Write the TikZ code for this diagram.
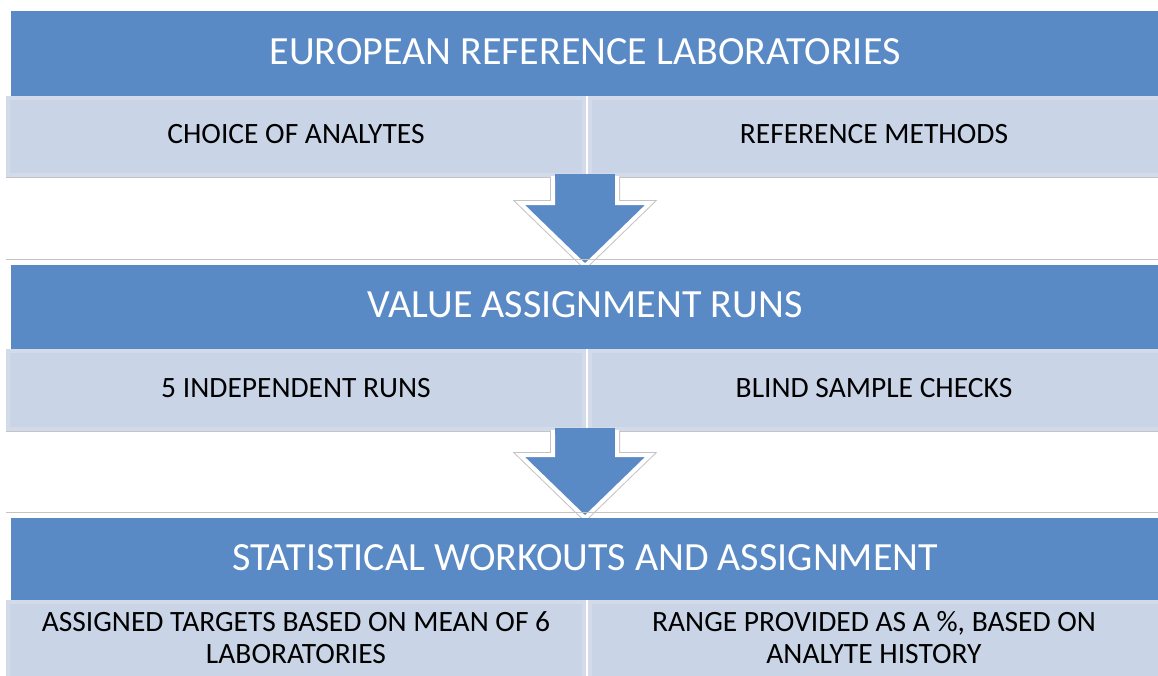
\documentclass[tikz,border=0pt]{standalone}
\usepackage{fontspec}
\setmainfont{Carlito}
\definecolor{hdr}{HTML}{5A8AC5}
\definecolor{subfill}{HTML}{C9D5E7}
\definecolor{subedge}{HTML}{D3DBEA}
\definecolor{edgegray}{HTML}{C4C4C4}
\begin{document}
\begin{tikzpicture}[x=1pt,y=-1pt,
  hdrbox/.style={fill=hdr,draw=none},
  subbox/.style={fill=subfill,draw=subedge,line width=4pt},
  hdrtext/.style={text=white,font=\fontsize{40}{46}\selectfont,anchor=center},
  subtext/.style={text=black,font=\fontsize{29.5}{32}\selectfont,anchor=center,align=center},
  downarrow/.style={fill=hdr,draw=white,line width=4pt,line join=miter},
  arrowshadow/.style={draw=edgegray,line width=6pt,line join=miter},
  grayline/.style={draw=edgegray,line width=1pt}]
\useasboundingbox (0,0) rectangle (1158,675);
\fill[white] (0,0) rectangle (1158,675);
% ---- row 1
\draw[grayline] (6,177.5) -- (1158,177.5);
\draw[subbox] (8,98) rectangle (584,175);
\draw[subbox] (590,98) rectangle (1160,175);
\node[subtext] (s1a) at (296,134) {CHOICE OF ANALYTES};
\node[subtext] (s1b) at (874,134) {REFERENCE METHODS};
% arrow 1
\draw[arrowshadow] (553,177) -- (553,203) -- (520,203) -- (585,266) -- (650,203) -- (617,203) -- (617,177);
\draw[downarrow] (553,176) -- (553,203) -- (520,203) -- (585,266) -- (650,203) -- (617,203) -- (617,176);
\fill[hdr] (555,174) rectangle (615,180);
% header 1
\fill[hdrbox] (11,11) rectangle (1158,96);
\node[hdrtext] (h1) at (585,52) {EUROPEAN REFERENCE LABORATORIES};
% ---- row 2
\draw[grayline] (6,259.5) -- (1158,259.5);
\draw[grayline] (6,431.5) -- (1158,431.5);
\draw[subbox] (8,351) rectangle (584,429);
\draw[subbox] (590,351) rectangle (1160,429);
\node[subtext] (s2a) at (296,388) {5 INDEPENDENT RUNS};
\node[subtext] (s2b) at (874,388) {BLIND SAMPLE CHECKS};
% arrow 2
\draw[arrowshadow] (553,431) -- (553,455) -- (520,455) -- (585,518) -- (650,455) -- (617,455) -- (617,431);
\draw[downarrow] (553,430) -- (553,455) -- (520,455) -- (585,518) -- (650,455) -- (617,455) -- (617,430);
\fill[hdr] (555,428) rectangle (615,434);
\fill[hdrbox] (11,265) rectangle (1158,349);
\node[hdrtext] (h2) at (585,305) {VALUE ASSIGNMENT RUNS};
% ---- row 3
\draw[grayline] (6,512.5) -- (1158,512.5);
\draw[subbox] (8,602) rectangle (584,680);
\draw[subbox] (590,602) rectangle (1160,680);
\node[subtext] (s3a) at (296,638) {ASSIGNED TARGETS BASED ON MEAN OF 6\\LABORATORIES};
\node[subtext] (s3b) at (874,638) {RANGE PROVIDED AS A \%, BASED ON\\ANALYTE HISTORY};
\fill[hdrbox] (11,518) rectangle (1158,600);
\node[hdrtext] (h3) at (585,558) {STATISTICAL WORKOUTS AND ASSIGNMENT};
\end{tikzpicture}
\end{document}
